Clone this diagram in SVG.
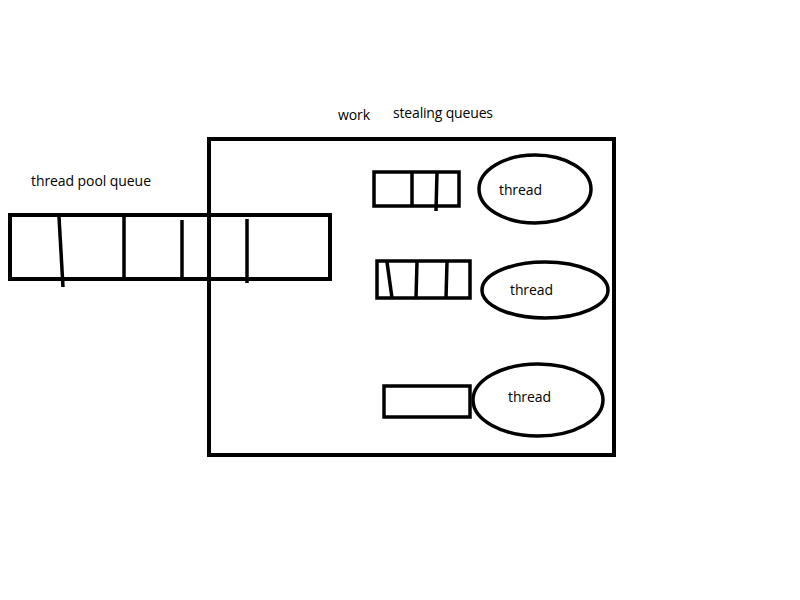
<svg xmlns="http://www.w3.org/2000/svg" width="800" height="600" viewBox="0 0 800 600">
<style>
.box{fill:none;stroke:#000;stroke-width:4}
.q{fill:none;stroke:#000;stroke-width:3.5}
.d{stroke:#000;stroke-width:3.5;fill:none}
.t{font-family:"Open Sans","Liberation Sans",sans-serif;font-size:14px;fill:#000}
</style>
<rect width="800" height="600" fill="#fff"/>
<g id="labels">
<text class="t" x="338" y="120" textLength="32">work</text>
<text class="t" x="393" y="118" textLength="100">stealing queues</text>
<text class="t" x="31" y="186" textLength="120">thread pool queue</text>
</g>
<g id="work-area">
<rect class="box" x="209" y="139" width="405" height="316"/>
</g>
<g id="pool-queue">
<rect class="box" x="10" y="215" width="320" height="64"/>
<g class="d">
<line x1="59" y1="217" x2="63" y2="287"/>
<line x1="124" y1="216" x2="124" y2="277"/>
<line x1="182" y1="220" x2="182" y2="277"/>
<line x1="247" y1="219" x2="247" y2="283"/>
</g>
</g>
<g id="queue1">
<rect class="q" x="374" y="172" width="85" height="34"/>
<line class="d" x1="412" y1="172" x2="412" y2="206"/>
<line class="d" x1="437" y1="172" x2="436" y2="211"/>
</g>
<g id="thread1">
<ellipse class="q" cx="535" cy="189" rx="56" ry="34"/>
<text class="t" x="499" y="195" textLength="43">thread</text>
</g>
<g id="queue2">
<rect class="q" x="377" y="261" width="93" height="37"/>
<line class="d" x1="387" y1="262" x2="392" y2="298"/>
<line class="d" x1="417" y1="262" x2="416" y2="298"/>
<line class="d" x1="447" y1="262" x2="446" y2="298"/>
</g>
<g id="thread2">
<ellipse class="q" cx="545" cy="290" rx="63" ry="28"/>
<text class="t" x="510" y="295" textLength="43">thread</text>
</g>
<g id="queue3">
<rect class="q" x="384" y="386" width="86" height="31"/>
</g>
<g id="thread3">
<ellipse class="q" cx="538" cy="400" rx="65" ry="36"/>
<text class="t" x="508" y="402" textLength="43">thread</text>
</g>
<g id="connectors"></g>
</svg>
